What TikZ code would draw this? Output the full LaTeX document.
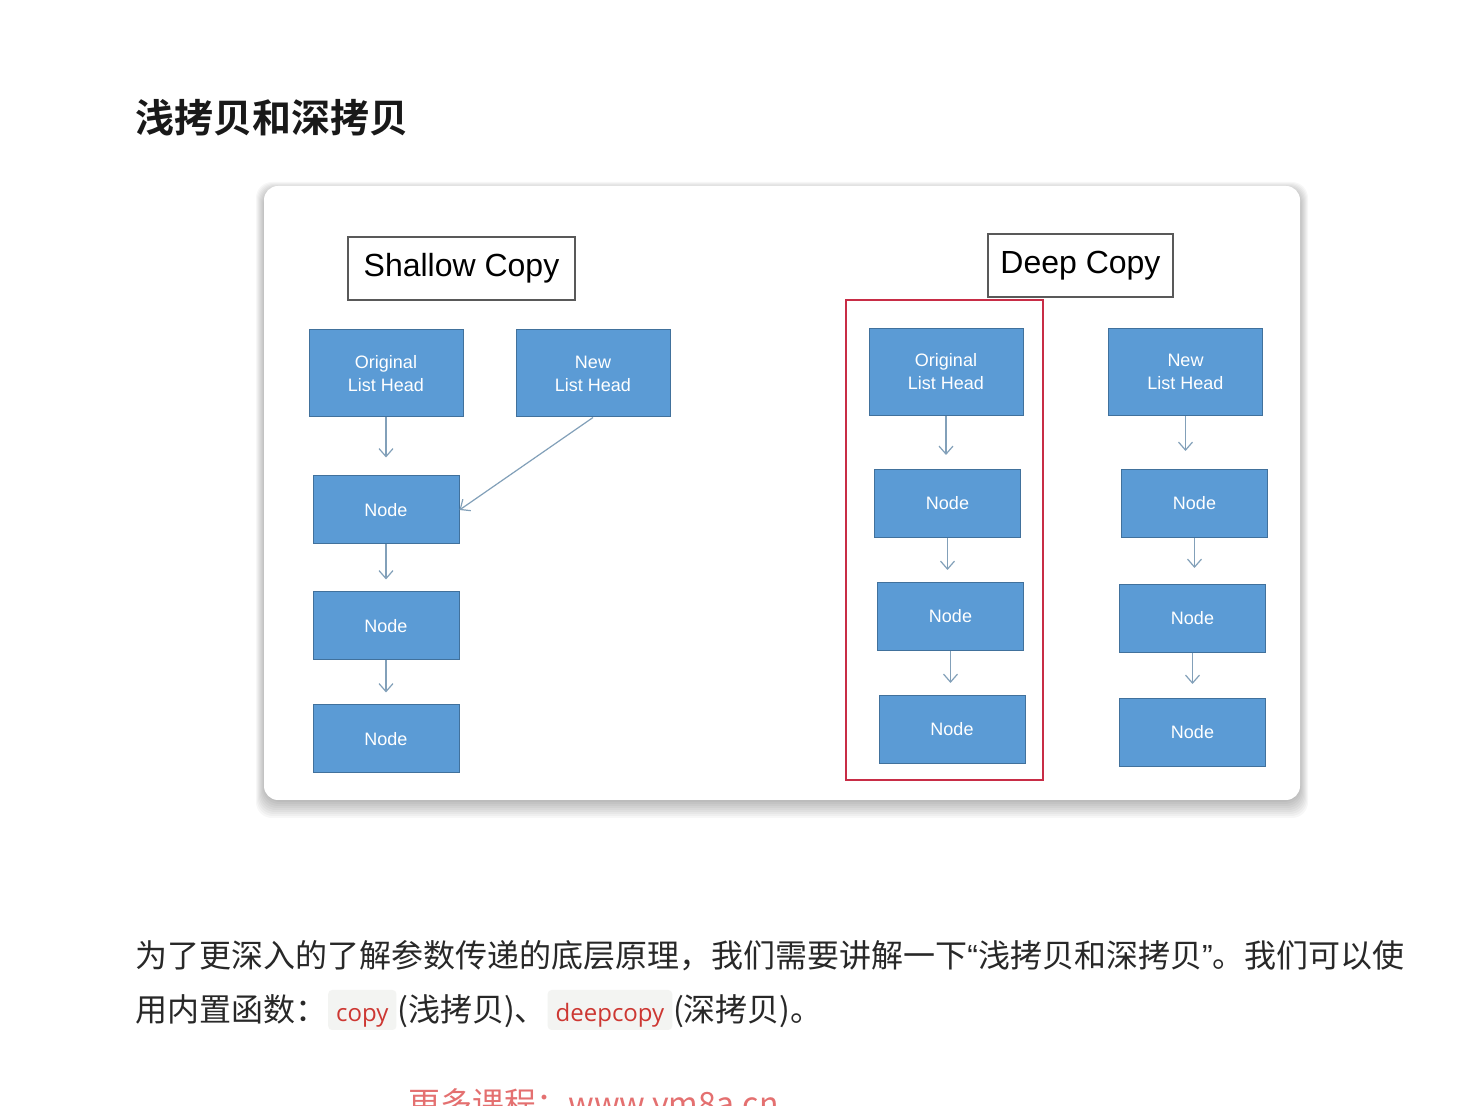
\documentclass[tikz,border=0pt]{standalone}
\usepackage{fontspec}
\setmainfont{Noto Sans CJK SC}[BoldFont={Noto Sans CJK SC Bold}]
\newfontfamily\diagfont{Liberation Sans}
\newfontfamily\codefont{Open Sans}
\definecolor{boxblue}{RGB}{91,155,213}
\definecolor{boxedge}{RGB}{65,113,156}
\definecolor{arrowgray}{RGB}{130,160,185}
\definecolor{framered}{RGB}{200,45,70}
\definecolor{codered}{RGB}{205,55,50}
\definecolor{codebg}{RGB}{243,244,242}
\definecolor{textgray}{RGB}{40,40,40}
\definecolor{markred}{RGB}{228,112,112}
\usetikzlibrary{positioning, arrows.meta, calc}

\begin{document}
\begin{tikzpicture}[x=0.5pt, y=-0.5pt, >={Straight Barb[length=4pt,width=7pt]},
    listbox/.style={rectangle, draw=boxedge, fill=boxblue, line width=0.5pt, text=white, font=\diagfont\fontsize{9}{11.5}\selectfont, align=center, minimum width=73pt, minimum height=34pt, inner sep=0pt},
    headbox/.style={listbox, minimum width=77pt, minimum height=43.5pt},
    labelbox/.style={rectangle, draw=black!65, fill=white, line width=0.75pt, font=\diagfont\fontsize{16}{19}\selectfont, minimum height=31.5pt, inner sep=0pt},
    link/.style={->, draw=arrowgray, line width=0.6pt},
    bodytext/.style={anchor=base west, inner sep=0pt, text=textgray, font=\fontsize{16}{20}\selectfont},
    codebox/.style={anchor=base west, fill=codebg, rounded corners=2pt, text=codered, font=\codefont\fontsize{12}{14}\selectfont, inner xsep=4pt, inner ysep=0pt, text height=16pt, text depth=4pt}]
    \clip (0,0) rectangle (1480,1106);
    \fill[white] (0,0) rectangle (1480,1106);

    % heading
    \node [anchor=base west, inner sep=0pt, text=black!90, font=\bfseries\fontsize{19.5}{22}\selectfont] (title) at (135,133) {浅拷贝和深拷贝};

    % card with soft shadow
    \foreach \s in {0,2,...,16}
        \fill [black, opacity=0.03, rounded corners=8pt] (256+\s/2,182+\s/2) rectangle (1308-\s/2,818-\s);
    \node [fill=white, rounded corners=7pt, minimum width=518pt, minimum height=307pt, inner sep=0pt] (card) at (782,493) {};

    % shallow copy
    \node [labelbox, minimum width=113.5pt] (shallow) at (461.5,268.5) {Shallow Copy};
    \node [headbox] (sorig) at (386,373.5) {Original\\List Head};
    \node [headbox, right=26pt of sorig] (snew) {New\\List Head};
    \node [listbox, below=29pt of sorig] (sn1) {Node};
    \node [listbox, below=23.5pt of sn1] (sn2) {Node};
    \node [listbox, below=22pt of sn2] (sn3) {Node};

    \draw [link, shorten >=9pt] (sorig.south) -- (sorig.south |- sn1.north);
    \draw [link, shorten >=6pt] (sn1.south) -- (sn1.south |- sn2.north);
    \draw [link, shorten >=6pt] (sn2.south) -- (sn2.south |- sn3.north);
    \draw [link] (snew.south) -- (sn1.east);

    % deep copy
    \node [labelbox, minimum width=92.5pt] (deep) at (1080.5,265.5) {Deep Copy};
    \node [headbox] (dorig) at (946,372) {Original\\List Head};
    \node [listbox, below=26.5pt of dorig, xshift=0.75pt] (dn1) {Node};
    \node [listbox, below=22pt of dn1, xshift=1.5pt] (dn2) {Node};
    \node [listbox, below=22pt of dn2, xshift=0.75pt] (dn3) {Node};
    \draw [framered, line width=1pt] (846,300) rectangle (1043,780);

    \node [headbox] (dnew) at (1185.5,372) {New\\List Head};
    \node [listbox, below=26.5pt of dnew, xshift=4.5pt] (dm1) {Node};
    \node [listbox, below=23pt of dm1, xshift=-1pt] (dm2) {Node};
    \node [listbox, below=22.5pt of dm2] (dm3) {Node};

    \draw [link, shorten >=7pt] (dorig.south) -- (dorig.south |- dn1.north);
    \draw [link, shorten >=6pt] (dn1.south) -- (dn1.south |- dn2.north);
    \draw [link, shorten >=6pt] (dn2.south) -- (dn2.south |- dn3.north);
    \draw [link, shorten >=9pt] (dnew.south) -- (dnew.south |- dm1.north);
    \draw [link, shorten >=8pt] (dm1.south) -- (dm1.south |- dm2.north);
    \draw [link, shorten >=7pt] (dm2.south) -- (dm2.south |- dm3.north);

    % text below
    \node [bodytext] (line1) at (135,968) {为了更深入的了解参数传递的底层原理，我们需要讲解一下{\diagfont“}浅拷贝和深拷贝{\diagfont”}。我们可以使};
    \node [bodytext] (line2) at (135,1022) {用内置函数：};
    \node [codebox] (copy) at (line2.base east) {copy};
    \node [bodytext] (shallownote) at (copy.base east) {(浅拷贝)、};
    \node [codebox] (deepcopy) at (shallownote.base east) {deepcopy};
    \node [bodytext] (deepnote) at (deepcopy.base east) {(深拷贝)。};

    \node [anchor=base west, inner sep=0pt, text=markred, font=\fontsize{16}{20}\selectfont] (mark) at (408,1116) {更多课程：www.ym8a.cn};
\end{tikzpicture}
\end{document}
